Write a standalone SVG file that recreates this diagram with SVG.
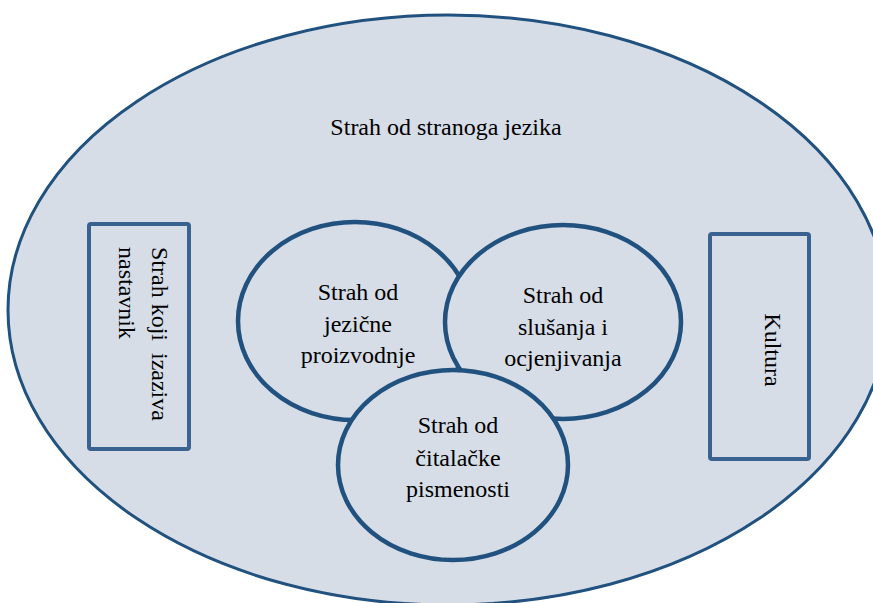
<svg xmlns="http://www.w3.org/2000/svg" width="873" height="603" viewBox="0 0 873 603">
<style>
.bg{fill:#d6dde7;stroke:#21527f;stroke-width:3}
.c{fill:#d6dde7;stroke:#21527f;stroke-width:4.5}
.r{fill:#d6dde7;stroke:#3a6291;stroke-width:4}
text{font-family:"Liberation Serif","Times New Roman",serif;font-size:24px;fill:#000}
.m{text-anchor:middle}
</style>
<rect width="873" height="603" fill="#fff"/>
<g id="outer">
<ellipse class="bg" cx="448" cy="310" rx="440" ry="295"/>
<text class="m" x="446" y="135">Strah od stranoga jezika</text>
</g>
<g id="teacher">
<rect class="r" x="89" y="224" width="100" height="225" rx="2"/>
<text transform="translate(152,247) rotate(90)" xml:space="preserve">Strah koji  izaziva</text>
<text transform="translate(119,247) rotate(90)">nastavnik</text>
</g>
<g id="culture">
<rect class="r" x="710" y="234" width="99" height="225" rx="2"/>
<text class="m" transform="translate(765,350) rotate(90)">Kultura</text>
</g>
<g id="production">
<ellipse class="c" cx="355" cy="321" rx="117" ry="99"/>
<text class="m" x="358" y="300">Strah od</text>
<text class="m" x="358" y="332">jezične</text>
<text class="m" x="358" y="363">proizvodnje</text>
</g>
<g id="listening">
<ellipse class="c" cx="563" cy="322" rx="118" ry="97"/>
<text class="m" x="563" y="303">Strah od</text>
<text class="m" x="563" y="335">slušanja i</text>
<text class="m" x="563" y="366">ocjenjivanja</text>
</g>
<g id="reading">
<ellipse class="c" cx="453" cy="465" rx="115" ry="95"/>
<text class="m" x="458" y="433">Strah od</text>
<text class="m" x="458" y="466">čitalačke</text>
<text class="m" x="458" y="497">pismenosti</text>
</g>
<g id="connectors"></g>
</svg>
